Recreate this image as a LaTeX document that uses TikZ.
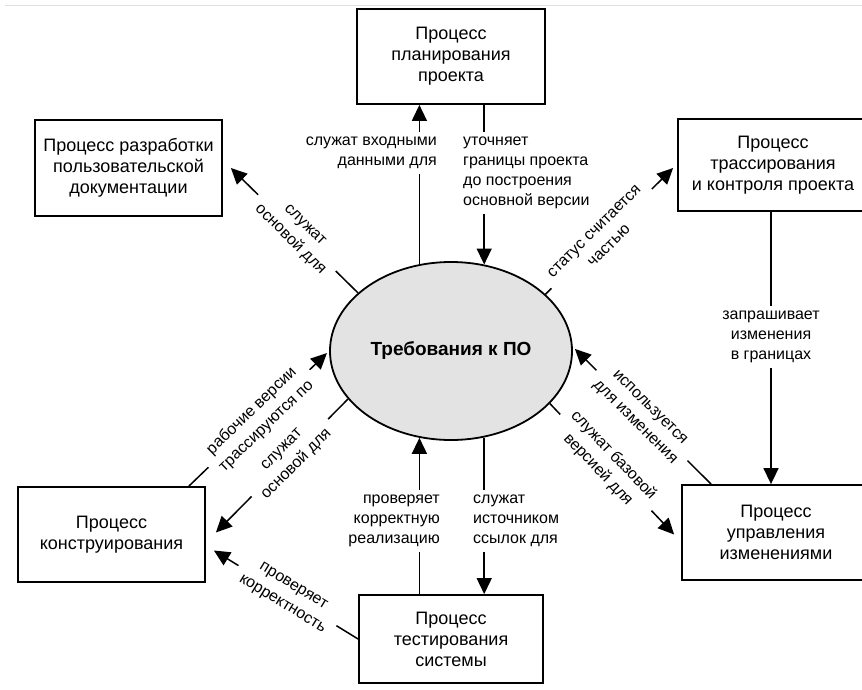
\documentclass[tikz,border=0pt]{standalone}
\usepackage{fontspec}
\setmainfont{Liberation Sans}
\usetikzlibrary{arrows.meta,shapes.geometric,calc}

\begin{document}
\begin{tikzpicture}[x=1pt,y=-1pt,
  proc/.style={draw=black, line width=1.8pt, fill=white, align=center,
    inner sep=0pt, font=\fontsize{18}{21}\selectfont},
  reqnode/.style={ellipse, draw=black, line width=1.8pt, fill=gray!22,
    minimum width=242pt, minimum height=178pt, inner sep=0pt,
    font=\bfseries\fontsize{19}{22}\selectfont},
  link/.style={line width=1.5pt, -{Triangle[length=16pt,width=15pt]}},
  lbl/.style={fill=white, inner xsep=3pt, inner ysep=5pt,
    font=\fontsize{16}{20}\selectfont},
  dlbl/.style={lbl, sloped, align=center, inner xsep=8pt, inner ysep=2pt,
    font=\fontsize{16}{21}\selectfont}
]
\useasboundingbox (0,0) rectangle (862,690);
\clip (0,0) rectangle (862,690);

% thin edge line along the top of the sheet
\draw[gray!25, line width=0.8pt] (5,5) -- (862,5);

% central element
\node[reqnode] (req) at (451,351) {Требования к ПО};

% surrounding processes
\node[proc, minimum width=188pt, minimum height=95pt] (plan) at (451,56.5)
  {Процесс\\планирования\\проекта};
\node[proc, minimum width=187pt, minimum height=96pt] (doc) at (128.5,168)
  {Процесс разработки\\пользовательской\\документации};
\node[proc, minimum width=190pt, minimum height=92pt] (trace) at (773,165)
  {Процесс\\трассирования\\и контроля проекта};
\node[proc, minimum width=188pt, minimum height=95pt] (change) at (776,532.5)
  {Процесс\\управления\\изменениями};
\node[proc, minimum width=187pt, minimum height=95pt] (cons) at (111.5,534.5)
  {Процесс\\конструирования};
\node[proc, minimum width=184pt, minimum height=88pt] (test) at (451,639)
  {Процесс\\тестирования\\системы};

% vertical links above and below the requirements
\draw[link] (req.110) -- (req.110 |- plan.south);
\draw[link] (plan.south -| req.69) -- (req.69);
\draw[link] (test.north -| req.250) -- (req.250);
\draw[link] (req.291) -- (req.291 |- test.north);
\draw[link] (trace.south -| 771,0) -- (change.north -| 771,0);

\node[lbl, align=right, anchor=east] at (440,153)
  {служат входными\\данными для};
\node[lbl, align=left, anchor=west] at (460,173)
  {уточняет\\границы проекта\\до построения\\основной версии};
\node[lbl, align=center] at (771,337)
  {запрашивает\\изменения\\в границах};
\node[lbl, align=right, anchor=east] at (443,521)
  {проверяет\\корректную\\реализацию};
\node[lbl, align=left, anchor=west] at (470,521)
  {служат\\источником\\ссылок для};

% diagonal links
\draw[link] (req.148) -- node[dlbl, pos=0.48] {служат\\основой для}
  ($(doc.east)+(8,0)$);
\draw[link] (req.31) -- node[dlbl, pos=0.44] {статус считается\\частью}
  ($(trace.west)+(-4,3)$);
\draw[link, shorten >=3pt] ($(change.north west)+(30,0)$) --
  node[dlbl, pos=0.5] {используется\\для изменения} (req.2);
\draw[link] (req.332) -- node[dlbl, pos=0.45] {служат базовой\\версией для}
  ($(change.west)+(-7,2)$);
\draw[link, shorten >=3pt] ($(cons.north east)+(-17,0)$) --
  node[dlbl, pos=0.5] {рабочие версии\\трассируются по} (req.west);
\draw[link] (req.205) -- node[dlbl, pos=0.44] {служат\\основой для}
  ($(cons.east)+(10,-2)$);
\draw[link] (test.west) -- node[dlbl, pos=0.49] {проверяет\\корректность}
  ($(cons.east)+(8,16)$);
\end{tikzpicture}
\end{document}
